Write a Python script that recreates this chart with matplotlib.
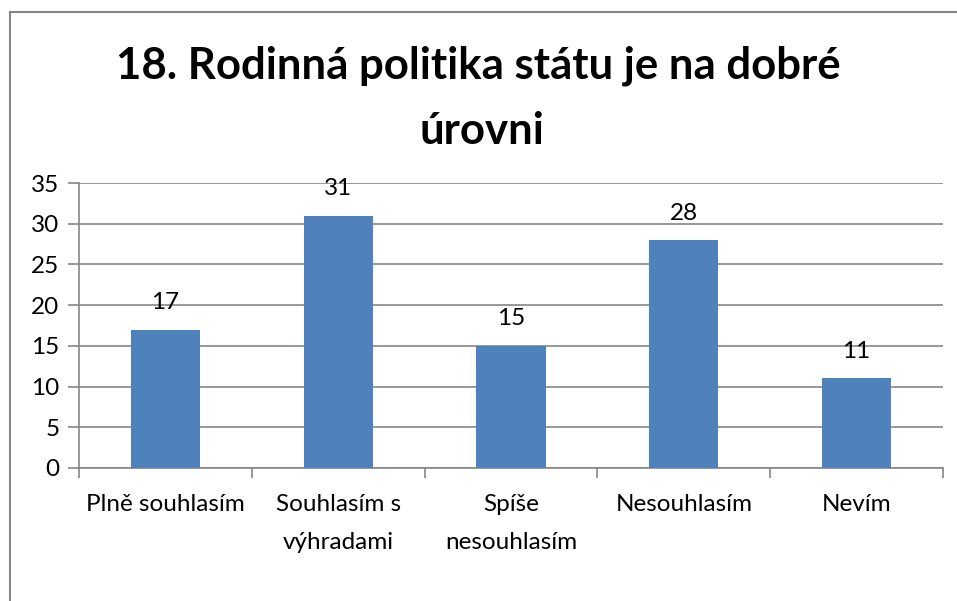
import numpy as np
import matplotlib.pyplot as plt
from matplotlib.lines import Line2D

categories = ["Plně souhlasím", "Souhlasím s\nvýhradami", "Spíše\nnesouhlasím",
              "Nesouhlasím", "Nevím"]
values = [17, 31, 15, 28, 11]
yticks = [0, 5, 10, 15, 20, 25, 30, 35]

W, H = 957, 601
plt.rcParams['font.family'] = ['Lato', 'DejaVu Sans']

fig = plt.figure(figsize=(W / 100, H / 100), dpi=100)
fig.patch.set_facecolor('white')

# outer chart frame (left and top edges visible)
fig.add_artist(Line2D([10 / W, 10 / W], [0, 1 - 12 / H], transform=fig.transFigure,
                      color='#868686', lw=1.5))
fig.add_artist(Line2D([10 / W, 1], [1 - 12 / H, 1 - 12 / H], transform=fig.transFigure,
                      color='#868686', lw=1.5))

fig.text(478 / W, 1 - 79 / H, "18. Rodinná politika státu je na dobré",
         ha='center', va='baseline', fontsize=31.5, fontweight='bold')
fig.text(482 / W, 1 - 144 / H, "úrovni",
         ha='center', va='baseline', fontsize=31.5, fontweight='bold')

left, right, top, bottom = 79, 943, 183, 468
ax = fig.add_axes([left / W, 1 - bottom / H, (right - left) / W, (bottom - top) / H])

x = np.arange(len(categories))
ax.bar(x, values, width=0.4, color='#4F81BD', zorder=3)
for xi, v in zip(x, values):
    ax.text(xi, v + 3.3, str(v), ha='center', va='center', fontsize=17.5)

ax.set_xlim(-0.5, len(categories) - 0.5)
ax.set_ylim(0, 35)
ax.set_yticks(yticks)
ax.tick_params(axis='y', labelsize=17.5, length=8, color='#868686', width=1.2, pad=6)
ax.yaxis.grid(True, color='#868686', lw=1.2, zorder=0)

ax.set_xticks(np.arange(-0.5, len(categories), 1.0))
ax.set_xticklabels([])
ax.set_xticks(x, minor=True)
ax.set_xticklabels(categories, minor=True, fontsize=17.5, linespacing=2.0)
ax.tick_params(axis='x', which='major', length=7, color='#868686', width=1.2)
ax.tick_params(axis='x', which='minor', length=0, pad=19)

for s in ['top', 'right']:
    ax.spines[s].set_visible(False)
for s in ['left', 'bottom']:
    ax.spines[s].set_color('#868686')
    ax.spines[s].set_linewidth(1.2)

fig.savefig("out.png", dpi=100)
